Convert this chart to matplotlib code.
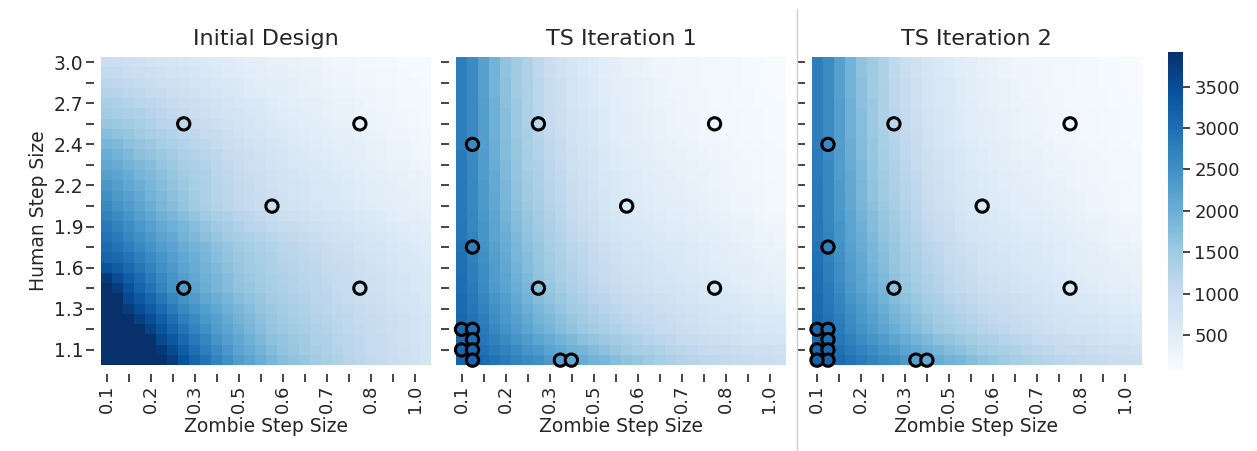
import numpy as np
import matplotlib
matplotlib.use("Agg")
import matplotlib.pyplot as plt
from matplotlib.lines import Line2D
from matplotlib.colors import Normalize

# ---------------- data ----------------
titles = ["Initial Design", "TS Iteration 1", "TS Iteration 2"]
x_label = "Zombie Step Size"
y_label = "Human Step Size"

# grid coordinates (columns: zombie step, rows: human step, top row = 3.0)
zombie_steps = np.linspace(0.1, 1.0, 30)
human_steps = np.linspace(3.0, 1.0, 30)

x_tick_labels = ["0.1", "", "0.2", "", "0.3", "", "0.5", "", "0.6", "", "0.7", "", "0.8", "", "1.0"]
y_tick_labels = ["3.0", "", "2.7", "", "2.4", "", "2.2", "", "1.9", "", "1.6", "", "1.3", "", "1.1"]
cbar_ticks = [500, 1000, 1500, 2000, 2500, 3000, 3500]

# rows from top (human step 3.0) to bottom (human step 1.0)
initial_values = [
    [960,920,890,850,810,770,730,690,660,620,580,540,500,460,430,390,390,350,310,310,270,230,230,200,200,160,160,120,120,120],
    [1080,1040,960,920,890,850,810,770,730,660,620,580,540,500,460,430,430,390,350,350,310,270,270,230,230,200,200,160,120,120],
    [1160,1120,1080,1040,960,920,890,850,770,730,690,660,620,540,500,460,460,430,390,350,310,270,270,230,230,200,200,160,160,120],
    [1270,1230,1160,1120,1040,1000,920,890,850,770,730,690,660,580,540,500,460,430,390,390,350,310,310,270,270,230,230,200,160,160],
    [1390,1350,1270,1190,1160,1080,1000,960,920,850,810,730,690,660,620,540,500,460,430,430,390,350,350,310,270,230,230,200,160,160],
    [1460,1420,1350,1310,1230,1160,1080,1040,960,890,850,810,770,690,660,580,540,500,460,430,390,350,350,310,310,270,270,230,200,160],
    [1580,1540,1460,1390,1310,1230,1160,1120,1040,960,920,850,810,730,690,620,580,540,500,460,430,390,390,350,310,270,270,230,200,160],
    [1730,1650,1580,1500,1420,1350,1270,1190,1120,1040,1000,920,850,770,730,660,620,580,540,500,460,430,430,390,350,310,270,270,230,200],
    [1850,1810,1690,1620,1540,1420,1350,1270,1190,1120,1040,960,920,850,810,730,690,620,580,540,500,460,460,430,390,350,310,310,270,230],
    [2000,1920,1810,1690,1620,1540,1460,1350,1270,1190,1120,1040,960,890,850,770,730,660,620,580,540,500,460,430,390,350,310,310,270,230],
    [2120,2040,1920,1810,1730,1620,1540,1420,1350,1270,1160,1080,1000,920,890,810,770,690,660,620,580,540,500,460,430,390,350,350,310,270],
    [2230,2150,2040,1880,1810,1690,1580,1460,1390,1310,1190,1120,1040,960,920,850,810,730,690,660,620,580,540,500,460,430,390,390,350,310],
    [2380,2270,2120,2000,1880,1730,1650,1540,1420,1350,1230,1160,1080,1000,920,850,810,770,730,690,660,620,580,540,500,460,430,390,390,350],
    [2500,2350,2230,2080,1920,1810,1690,1580,1460,1350,1230,1160,1080,1000,960,890,850,770,730,690,660,620,580,540,500,460,430,430,390,350],
    [2610,2460,2310,2150,2000,1850,1730,1620,1500,1390,1270,1190,1120,1040,960,890,850,810,770,730,690,660,620,580,540,500,460,430,430,390],
    [2730,2580,2420,2270,2120,1960,1850,1730,1620,1500,1390,1310,1230,1160,1080,1000,920,890,850,810,770,730,690,660,620,580,500,460,460,430],
    [2840,2690,2540,2380,2230,2080,1960,1850,1730,1620,1500,1420,1310,1230,1160,1080,1040,1000,920,890,850,810,770,690,660,620,580,540,500,460],
    [2920,2810,2650,2500,2350,2190,2080,1920,1810,1690,1580,1500,1420,1350,1270,1190,1120,1080,1000,960,890,850,810,770,730,690,620,580,540,500],
    [3040,2920,2770,2610,2460,2310,2190,2040,1920,1810,1690,1620,1500,1420,1350,1270,1190,1160,1080,1040,960,920,890,810,770,730,660,620,580,540],
    [3150,3080,2920,2770,2580,2420,2270,2120,2000,1850,1730,1650,1540,1460,1390,1310,1230,1190,1120,1080,1000,960,920,850,810,770,690,660,620,580],
    [3420,3270,3080,2880,2690,2500,2350,2190,2040,1920,1810,1690,1580,1500,1420,1350,1270,1230,1160,1120,1040,1000,960,890,850,810,730,690,660,620],
    [3770,3500,3270,3040,2810,2610,2420,2270,2120,1960,1850,1730,1620,1540,1460,1390,1310,1270,1190,1160,1080,1040,1000,920,890,850,770,730,690,650],
    [3920,3730,3420,3150,2920,2690,2460,2310,2150,2000,1880,1770,1650,1580,1500,1420,1350,1270,1230,1160,1120,1040,1000,920,890,850,770,730,690,660],
    [3920,3920,3570,3310,3110,2880,2650,2460,2310,2120,2000,1880,1730,1650,1580,1460,1390,1310,1270,1190,1160,1080,1040,960,920,890,810,770,730,660],
    [3920,3920,3730,3500,3270,3040,2810,2610,2420,2270,2120,1960,1850,1730,1620,1540,1460,1390,1310,1230,1190,1120,1080,1000,960,920,850,810,770,690],
    [3920,3920,3920,3690,3460,3230,3000,2770,2580,2380,2230,2080,1920,1810,1690,1580,1500,1420,1350,1270,1230,1160,1120,1040,1000,960,890,850,810,730],
    [3920,3920,3920,3920,3650,3380,3150,2920,2690,2500,2310,2150,2000,1850,1730,1620,1540,1460,1390,1310,1270,1190,1120,1080,1000,960,890,850,810,730],
    [3920,3920,3920,3920,3920,3570,3340,3080,2840,2650,2420,2270,2120,1960,1810,1690,1620,1540,1460,1350,1310,1230,1160,1120,1040,1000,920,850,810,730],
    [3920,3920,3920,3920,3920,3800,3540,3270,3000,2770,2580,2380,2190,2040,1920,1770,1650,1580,1500,1420,1350,1270,1190,1120,1040,1000,920,890,850,770],
    [3920,3920,3920,3920,3920,3920,3730,3420,3150,2920,2690,2500,2310,2150,2000,1850,1730,1650,1580,1460,1390,1310,1230,1160,1080,1040,960,890,850,770],
]

iter1_values = [
    [2770,2580,2230,1920,1650,1500,1310,1120,960,850,730,660,580,500,460,390,350,310,270,270,230,230,200,200,160,160,120,120,80,80],
    [2770,2580,2230,1920,1650,1500,1310,1120,960,850,730,660,580,500,460,390,350,310,270,270,230,230,200,200,160,160,120,120,80,80],
    [2770,2580,2230,1920,1690,1500,1310,1160,1000,890,770,690,620,540,460,430,390,350,310,270,230,230,200,200,160,160,120,120,80,80],
    [2770,2580,2230,1920,1690,1500,1350,1160,1000,890,770,690,620,540,460,430,390,350,310,270,270,230,230,200,200,160,160,120,120,80],
    [2770,2580,2270,1960,1690,1540,1350,1160,1000,890,770,690,620,540,500,430,390,350,310,310,270,230,230,200,200,160,160,120,120,120],
    [2770,2580,2270,1960,1730,1540,1350,1190,1040,920,810,730,660,580,500,460,430,390,350,310,270,270,230,230,200,200,160,160,120,120],
    [2770,2580,2270,1960,1730,1540,1350,1190,1040,920,810,730,660,580,500,460,430,390,350,310,270,270,230,230,200,200,160,160,120,120],
    [2770,2580,2270,1960,1730,1540,1390,1230,1080,960,850,770,690,580,500,460,430,390,350,310,310,270,230,230,200,200,160,160,120,120],
    [2770,2580,2270,2000,1770,1580,1390,1270,1120,1000,850,770,690,620,540,500,460,430,390,350,310,310,270,270,230,200,200,160,160,120],
    [2810,2580,2310,2000,1770,1580,1420,1270,1120,1000,890,810,730,660,580,540,460,430,390,350,350,310,310,270,230,230,200,200,160,160],
    [2810,2610,2310,2040,1810,1620,1420,1310,1160,1040,890,850,770,660,580,540,500,460,430,390,390,350,310,310,270,230,230,200,160,160],
    [2810,2610,2310,2080,1810,1620,1460,1350,1190,1080,920,850,770,690,620,580,540,500,460,430,390,350,350,310,270,230,230,200,160,160],
    [2840,2610,2350,2080,1850,1650,1500,1350,1230,1120,960,890,810,690,620,580,540,500,460,430,430,390,350,310,270,270,230,230,200,160],
    [2840,2610,2350,2120,1850,1650,1500,1390,1230,1120,960,890,810,730,660,620,580,540,500,460,430,390,390,350,310,270,270,230,200,200],
    [2840,2610,2350,2120,1880,1690,1540,1420,1270,1160,1000,920,850,730,660,620,580,540,500,460,460,430,390,350,310,270,270,230,200,200],
    [2840,2650,2380,2150,1920,1730,1580,1460,1310,1190,1040,960,890,770,690,660,620,580,540,500,500,460,430,390,350,310,310,270,230,230],
    [2880,2650,2420,2190,1960,1770,1620,1500,1350,1230,1080,1000,920,810,730,690,660,620,580,540,540,500,460,430,390,350,350,310,270,270],
    [2880,2690,2420,2190,2000,1810,1650,1540,1390,1270,1120,1040,960,850,770,730,690,660,620,580,580,540,500,460,430,390,350,310,310,270],
    [2920,2730,2460,2230,2040,1850,1690,1580,1420,1310,1190,1120,1000,920,850,770,730,690,660,620,620,580,540,500,460,430,390,350,350,310],
    [2960,2730,2500,2270,2080,1880,1730,1580,1460,1350,1230,1160,1040,960,890,810,770,730,690,660,620,580,540,500,460,430,430,390,350,350],
    [2960,2770,2540,2310,2120,1920,1770,1620,1500,1390,1270,1190,1080,1000,920,850,810,770,730,690,660,620,580,540,500,460,460,430,390,390],
    [3000,2770,2540,2310,2150,1960,1810,1650,1540,1420,1310,1230,1120,1040,960,890,850,810,770,730,690,660,620,580,540,500,460,430,430,390],
    [3000,2810,2580,2350,2190,2000,1850,1690,1580,1460,1350,1270,1160,1080,1000,920,890,850,810,770,730,690,660,620,580,540,500,460,460,430],
    [3040,2840,2650,2420,2270,2080,1920,1770,1650,1540,1420,1350,1230,1160,1080,1000,960,920,890,850,770,730,690,660,660,620,580,540,540,500],
    [3040,2880,2690,2500,2350,2150,2000,1850,1730,1620,1500,1420,1310,1230,1160,1080,1040,1000,920,890,850,810,770,730,690,660,620,580,580,540],
    [3080,2920,2770,2540,2380,2230,2080,1920,1810,1690,1580,1460,1390,1310,1230,1160,1080,1040,1000,960,890,850,810,770,770,730,690,660,660,620],
    [3080,2960,2810,2610,2460,2310,2150,2000,1880,1770,1650,1540,1460,1390,1310,1230,1160,1120,1040,1000,920,890,850,810,810,770,730,690,690,660],
    [3110,3000,2880,2730,2580,2420,2310,2150,2040,1920,1810,1690,1620,1540,1460,1390,1310,1230,1160,1120,1040,1000,960,920,890,850,810,770,770,730],
    [3110,3080,2960,2810,2690,2580,2420,2350,2190,2080,1960,1880,1770,1690,1580,1500,1420,1390,1310,1230,1160,1120,1040,1000,1000,960,920,890,890,850],
    [3150,3110,3040,2920,2810,2690,2580,2500,2350,2230,2120,2040,1920,1850,1730,1650,1580,1500,1420,1350,1270,1230,1160,1120,1080,1040,1000,960,960,920],
]
iter2_values = iter1_values

# evaluated design points (zombie step, human step)
initial_x = [0.317, 0.814, 0.566, 0.317, 0.814]
initial_y = [2.586, 2.586, 2.034, 1.483, 1.483]
iter1_x = [0.317, 0.814, 0.131, 0.566, 0.131, 0.317, 0.814, 0.100, 0.131, 0.131, 0.100, 0.131, 0.131, 0.379, 0.410]
iter1_y = [2.586, 2.586, 2.448, 2.034, 1.759, 1.483, 1.483, 1.207, 1.207, 1.138, 1.069, 1.069, 1.000, 1.000, 1.000]
iter2_x = iter1_x + [0.100]
iter2_y = iter1_y + [1.000]

# ---------------- plotting ----------------
plt.rcParams["font.family"] = ["DejaVu Sans"]
TXT = "#262626"
plt.rcParams["text.color"] = TXT
plt.rcParams["axes.labelcolor"] = TXT
plt.rcParams["xtick.color"] = TXT
plt.rcParams["ytick.color"] = TXT

fig = plt.figure(figsize=(12.57, 4.51), dpi=100)
W, H = 1257.0, 451.0
cmap = plt.get_cmap("Blues")
all_vals = np.concatenate([np.ravel(initial_values), np.ravel(iter1_values), np.ravel(iter2_values)])
norm = Normalize(vmin=all_vals.min(), vmax=all_vals.max())

dx = zombie_steps[1] - zombie_steps[0]
dy = human_steps[0] - human_steps[1]
x_edges = np.concatenate([zombie_steps - dx / 2, [zombie_steps[-1] + dx / 2]])
y_edges = np.concatenate([human_steps + dy / 2, [human_steps[-1] - dy / 2]])

panels = [
    (initial_values, initial_x, initial_y),
    (iter1_values, iter1_x, iter1_y),
    (iter2_values, iter2_x, iter2_y),
]
lefts = [101.3, 456.0, 811.5]
top, bottom = 57.0, 365.3
pw = 330.0

for i, (vals, px, py) in enumerate(panels):
    Z = np.array(vals, dtype=float)
    ax = fig.add_axes([lefts[i] / W, 1 - bottom / H, pw / W, (bottom - top) / H])
    ax.pcolormesh(x_edges, y_edges, Z, cmap=cmap, norm=norm, shading="flat",
                  linewidth=0, rasterized=True)
    ax.set_xlim(x_edges[0], x_edges[-1])
    ax.set_ylim(y_edges[-1], y_edges[0])
    for s in ax.spines.values():
        s.set_visible(False)
    ax.spines["left"].set_position(("outward", 5))
    ax.spines["bottom"].set_position(("outward", 6))
    ax.set_xticks(zombie_steps[::2])
    ax.set_xticklabels(x_tick_labels, rotation=90, fontsize=13)
    ax.set_yticks(human_steps[::2])
    if i == 0:
        ax.set_yticklabels(y_tick_labels, fontsize=13.5)
        ax.set_ylabel(y_label, fontsize=13.5, labelpad=4)
    else:
        ax.set_yticklabels([""] * len(y_tick_labels))
    ax.tick_params(axis="both", length=5.5, width=1.2, pad=2.5)
    ax.set_xlabel(x_label, fontsize=13.5, labelpad=3)
    ax.set_title(titles[i], fontsize=16, pad=9)

    cols = [int(np.argmin(np.abs(zombie_steps - x))) for x in px]
    rows = [int(np.argmin(np.abs(human_steps - y))) for y in py]
    fills = [cmap(norm(Z[r, c])) for r, c in zip(rows, cols)]
    ax.scatter(px, py, s=78, c=fills, edgecolors="black", linewidths=2.2,
               zorder=5, clip_on=False)

# colorbar
cax = fig.add_axes([1168.3 / W, 1 - 370.0 / H, 15.0 / W, (370.0 - 51.7) / H])
sm = matplotlib.cm.ScalarMappable(norm=norm, cmap=cmap)
cb = fig.colorbar(sm, cax=cax)
cb.outline.set_linewidth(0)
cb.set_ticks(cbar_ticks)
cb.ax.tick_params(labelsize=13, length=5, width=1.2, pad=3)

# separator line between iteration panels
fig.add_artist(Line2D([796.5 / W, 796.5 / W], [0.0, 1 - 9.0 / H],
                      transform=fig.transFigure, color="#cfcfcf", linewidth=1.0))

fig.savefig("out.png", dpi=100, facecolor="white")
